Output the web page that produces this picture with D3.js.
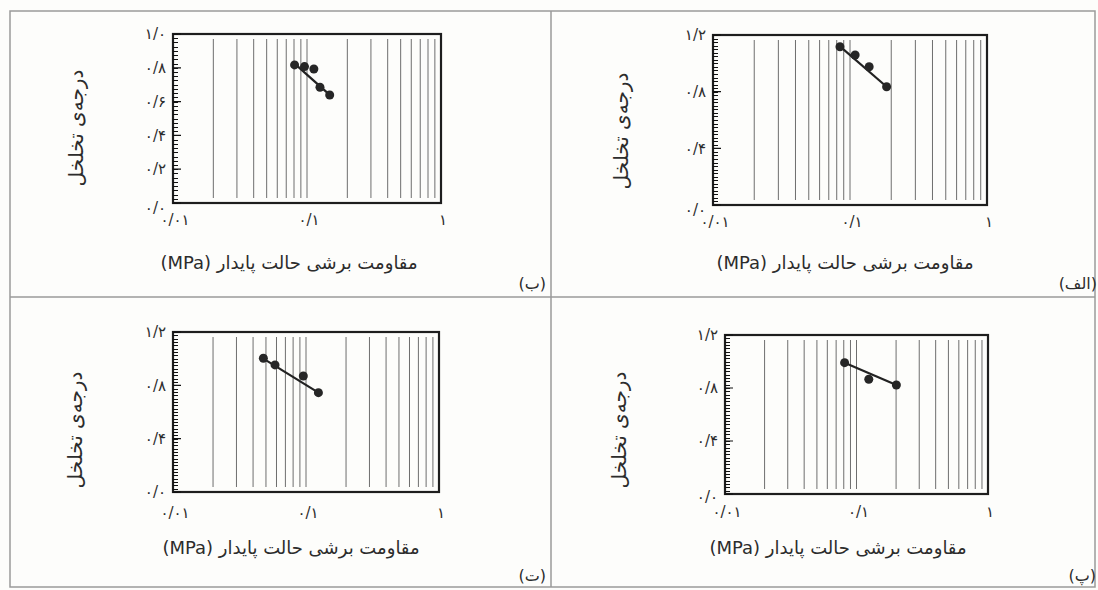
<!DOCTYPE html>
<html lang="fa">
<head>
<meta charset="utf-8">
<script src="https://cdn.jsdelivr.net/npm/d3@7"></script>
<style>
  html, body { margin: 0; padding: 0; background: #fdfdfb; }
  svg { display: block; }
  text { font-family: "DejaVu Sans", "Noto Sans", sans-serif; fill: #2c2c2c; }
</style>
</head>
<body>
<svg id="chart" width="1098" height="590"></svg>
<script>
// Steady-state shear strength (MPa) vs. porosity, four samples.
const xTickValues = [0.01, 0.1, 1];
const xTickLabels = ["۰/۰۱", "۰/۱", "۱"];

const yTicksBe = [0, 0.2, 0.4, 0.6, 0.8, 1.0];
const yLabelsBe = ["۰/۰", "۰/۲", "۰/۴", "۰/۶", "۰/۸", "۱/۰"];
const yTicksOther = [0, 0.4, 0.8, 1.2];
const yLabelsOther = ["۰/۰", "۰/۴", "۰/۸", "۱/۲"];

// (الف)
const shearAlef = [0.0845, 0.109, 0.138, 0.185];
const porosityAlef = [1.117, 1.059, 0.976, 0.835];
const trendAlefX = [0.0845, 0.185];
const trendAlefY = [1.12, 0.835];

// (ب)
const shearBe = [0.0808, 0.0958, 0.1125, 0.125, 0.1477];
const porosityBe = [0.817, 0.807, 0.793, 0.685, 0.639];
const trendBeX = [0.0808, 0.1477];
const trendBeY = [0.825, 0.64];

// (پ)
const shearPe = [0.0812, 0.124, 0.201];
const porosityPe = [0.991, 0.866, 0.823];
const trendPeX = [0.0812, 0.201];
const trendPeY = [0.99, 0.823];

// (ت)
const shearTe = [0.0478, 0.0585, 0.0955, 0.124];
const porosityTe = [1.003, 0.953, 0.870, 0.745];
const trendTeX = [0.0478, 0.124];
const trendTeY = [1.0, 0.745];

const xTitle = "مقاومت برشی حالت پایدار (MPa)";
const yTitle = "درجه‌ی تخلخل";

const panels = [
  { tag: "(الف)", xs: shearAlef, ys: porosityAlef, tx: trendAlefX, ty: trendAlefY,
    yMax: 1.2, yTicks: yTicksOther, yLabels: yLabelsOther,
    box: [713, 35, 987, 205], yTitleX: 621, yTitleY: 131, xTitleX: 845, xTitleY: 263,
    tagX: 1097, tagY: 283, xLabelY: 222, zeroShift: 5 },
  { tag: "(ب)", xs: shearBe, ys: porosityBe, tx: trendBeX, ty: trendBeY,
    yMax: 1.0, yTicks: yTicksBe, yLabels: yLabelsBe,
    box: [173, 34, 441, 203], yTitleX: 76, yTitleY: 128, xTitleX: 289, xTitleY: 263,
    tagX: 546, tagY: 283, xLabelY: 220, zeroShift: 5 },
  { tag: "(پ)", xs: shearPe, ys: porosityPe, tx: trendPeX, ty: trendPeY,
    yMax: 1.2, yTicks: yTicksOther, yLabels: yLabelsOther,
    box: [725, 335, 988, 494], yTitleX: 619, yTitleY: 430, xTitleX: 838, xTitleY: 548,
    tagX: 1096, tagY: 575, xLabelY: 512, zeroShift: 3 },
  { tag: "(ت)", xs: shearTe, ys: porosityTe, tx: trendTeX, ty: trendTeY,
    yMax: 1.2, yTicks: yTicksOther, yLabels: yLabelsOther,
    box: [173, 332, 439, 492], yTitleX: 75, yTitleY: 430, xTitleX: 291, xTitleY: 548,
    tagX: 546, tagY: 575, xLabelY: 513, zeroShift: 0 }
];

const svg = d3.select("#chart");

// outer frame and dividers
const frame = svg.append("g").attr("fill", "none").attr("stroke", "#9a9a9a").attr("stroke-width", 1.5);
frame.append("rect").attr("x", 10).attr("y", 11).attr("width", 1085).attr("height", 576);
frame.append("line").attr("x1", 551).attr("x2", 551).attr("y1", 11).attr("y2", 587);
frame.append("line").attr("x1", 10).attr("x2", 1095).attr("y1", 297).attr("y2", 297);

panels.forEach(p => {
  const [x0, y0, x1, y1] = p.box;
  const g = svg.append("g");
  const x = d3.scaleLog().domain([0.01, 1]).range([x0, x1]);
  const y = d3.scaleLinear().domain([0, p.yMax]).range([y1, y0]);

  // vertical log grid
  const grid = x.ticks().filter(v => v > 0.0101 && v < 0.99);
  g.append("g").selectAll("line").data(grid).join("line")
    .attr("x1", d => x(d)).attr("x2", d => x(d))
    .attr("y1", y0 + 5).attr("y2", y1 - 5)
    .attr("stroke", "#6e6e6e").attr("stroke-width", 1);

  // plot box
  g.append("rect").attr("x", x0).attr("y", y0).attr("width", x1 - x0).attr("height", y1 - y0)
    .attr("fill", "none").attr("stroke", "#1e1e1e").attr("stroke-width", 2.2);

  // left axis: dense minor ticks plus major ticks, drawn inward as one path
  const minor = d3.range(0, p.yMax + 1e-9, 0.025);
  const tickPath = d3.path();
  minor.forEach(v => {
    const yy = Math.round(y(v)) + 0.5;
    tickPath.moveTo(x0, yy);
    tickPath.lineTo(x0 + 5, yy);
  });
  p.yTicks.forEach(v => {
    tickPath.moveTo(x0, y(v));
    tickPath.lineTo(x0 + 8, y(v));
  });
  g.append("path").attr("d", tickPath.toString())
    .attr("fill", "none").attr("stroke", "#111").attr("stroke-width", 1.2);

  // y tick labels
  g.append("g").selectAll("text").data(p.yTicks).join("text")
    .attr("x", x0 - 7)
    .attr("y", (d, i) => y(d) + (i === 0 ? p.zeroShift : 0))
    .attr("dy", "0.35em")
    .attr("text-anchor", "end")
    .attr("font-size", 15)
    .attr("letter-spacing", 2.5)
    .text((d, i) => p.yLabels[i]);

  // x tick labels
  g.append("g").selectAll("text").data(xTickValues).join("text")
    .attr("x", d => x(d) + 2)
    .attr("y", p.xLabelY)
    .attr("dy", "0.35em")
    .attr("text-anchor", "middle")
    .attr("font-size", 15)
    .attr("letter-spacing", 2.5)
    .text((d, i) => xTickLabels[i]);

  // trend line
  const trend = p.tx.map((v, i) => [v, p.ty[i]]);
  g.append("path").datum(trend)
    .attr("d", d3.line().x(d => x(d[0])).y(d => y(d[1])))
    .attr("fill", "none").attr("stroke", "#222").attr("stroke-width", 2.2);

  // measured points
  const pts = p.xs.map((v, i) => [v, p.ys[i]]);
  g.append("g").selectAll("circle").data(pts).join("circle")
    .attr("cx", d => x(d[0])).attr("cy", d => y(d[1])).attr("r", 4.5)
    .attr("fill", "#262626");

  // axis titles
  g.append("text")
    .attr("transform", `translate(${p.yTitleX},${p.yTitleY}) rotate(-90)`)
    .attr("text-anchor", "middle").attr("dy", "0.35em")
    .attr("direction", "rtl")
    .attr("font-size", 20)
    .text(yTitle);
  g.append("text")
    .attr("x", p.xTitleX).attr("y", p.xTitleY)
    .attr("text-anchor", "middle").attr("dy", "0.35em")
    .attr("direction", "rtl")
    .attr("font-size", 18)
    .text(xTitle);

  // panel tag
  g.append("text")
    .attr("x", p.tagX).attr("y", p.tagY)
    .attr("text-anchor", "start").attr("dy", "0.35em")
    .attr("direction", "rtl")
    .attr("font-size", 16)
    .text(p.tag);
});
</script>
</body>
</html>
